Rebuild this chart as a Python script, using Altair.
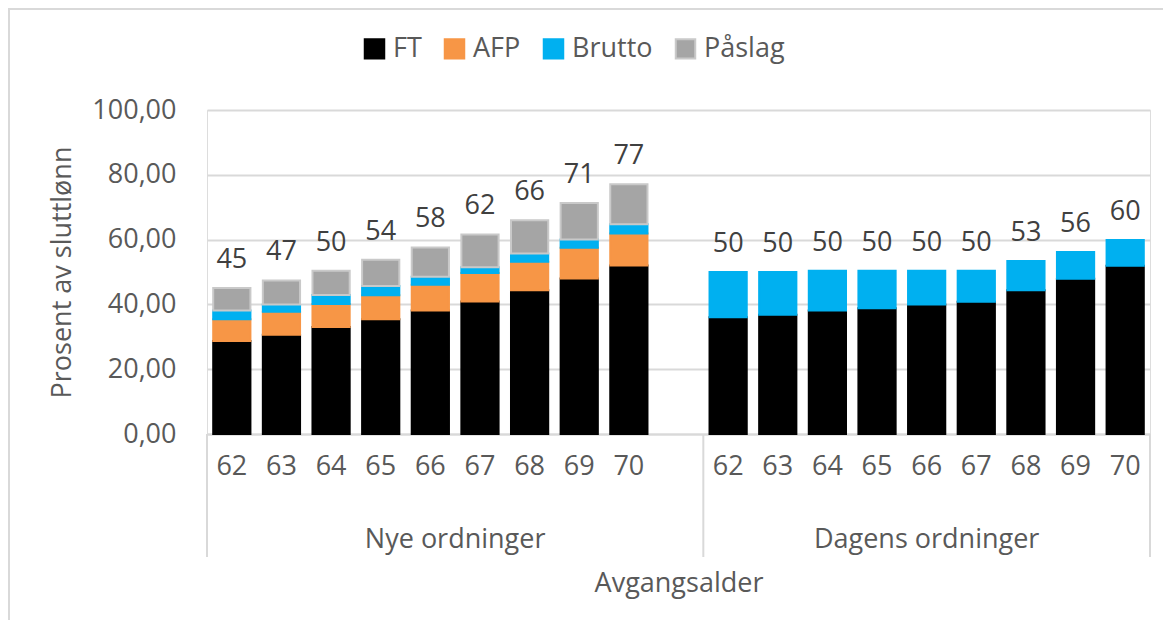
import altair as alt
import pandas as pd

series = ["FT", "AFP", "Brutto", "Påslag"]
fill_colors = ["#000000", "#f79646", "#00b0f0", "#a5a5a5"]
stroke_colors = ["#000000", "#f79646", "#00b0f0", "#c9c9c9"]
ages = ["62", "63", "64", "65", "66", "67", "68", "69", "70"]
groups = ["Nye ordninger", "Dagens ordninger"]

nye_ft = [28.7, 30.6, 33.0, 35.4, 38.1, 40.9, 44.4, 48.0, 52.0]
nye_afp = [6.7, 7.1, 7.1, 7.4, 8.0, 8.8, 8.8, 9.5, 9.9]
nye_brutto = [2.7, 2.3, 2.8, 2.9, 2.4, 1.8, 2.5, 2.5, 2.8]
nye_paaslag = [7.0, 7.4, 7.5, 8.1, 9.1, 10.1, 10.3, 11.3, 12.4]

dagens_ft = [36.0, 36.8, 38.1, 38.8, 40.0, 40.8, 44.4, 47.9, 51.9]
dagens_brutto = [14.0, 13.2, 12.3, 11.6, 10.4, 9.6, 9.0, 8.3, 8.0]

# category keys: 9 ages + an empty slot in the first group, then 9 ages
keys = [f"Nye|{a}" for a in ages] + ["Nye|gap"] + [f"Dagens|{a}" for a in ages]

rows = []
for i, a in enumerate(ages):
    for s, v in zip(series, [nye_ft[i], nye_afp[i], nye_brutto[i], nye_paaslag[i]]):
        rows.append({"key": f"Nye|{a}", "serie": s, "value": v, "ord": series.index(s)})
for i, a in enumerate(ages):
    for s, v in zip(["FT", "Brutto"], [dagens_ft[i], dagens_brutto[i]]):
        rows.append({"key": f"Dagens|{a}", "serie": s, "value": v, "ord": series.index(s)})
df = pd.DataFrame(rows)

FONT = "Open Sans"
TXT = "#595959"
FS = 27
W, H = 943, 324
PAD_OUT = 0.125
HALF_GAP = W / len(keys) * PAD_OUT  # distance from bar edge to slot edge

xscale = alt.Scale(domain=keys, paddingInner=0.25, paddingOuter=PAD_OUT)
leg = alt.Legend(
    title=None, orient="none", legendX=154, legendY=-75, direction="horizontal",
    symbolType="square", symbolSize=380, symbolStrokeWidth=2,
    labelFont=FONT, labelFontSize=FS, labelColor=TXT, labelOffset=5,
    columnPadding=18, labelLimit=300,
)

bars = alt.Chart(df).mark_bar(strokeWidth=2).encode(
    x=alt.X(
        "key:N", scale=xscale, sort=keys,
        axis=alt.Axis(
            title="Avgangsalder", labelAngle=0, ticks=False,
            labelExpr="split(datum.label, '|')[1] == 'gap' ? '' : split(datum.label, '|')[1]",
            labelFont=FONT, labelFontSize=FS, labelColor=TXT, labelPadding=19,
            labelBaseline="top",
            domainColor="#d9d9d9", domainWidth=2,
            titleFont=FONT, titleFontSize=FS, titleColor=TXT, titleFontWeight="normal",
            titlePadding=91,
        ),
    ),
    y=alt.Y(
        "value:Q", stack="zero", scale=alt.Scale(domain=[0, 100]),
        axis=alt.Axis(
            title="Prosent av sluttlønn", values=[0, 20, 40, 60, 80, 100],
            labelExpr="replace(format(datum.value, '.2f'), '.', ',')",
            ticks=False, domain=False, gridColor="#d9d9d9", gridWidth=2,
            labelFont=FONT, labelFontSize=FS, labelColor=TXT, labelPadding=31,
            titleFont=FONT, titleFontSize=FS, titleColor=TXT, titleFontWeight="normal",
            titlePadding=15,
        ),
    ),
    color=alt.Color("serie:N", scale=alt.Scale(domain=series, range=fill_colors), legend=leg),
    stroke=alt.Stroke("serie:N", scale=alt.Scale(domain=series, range=stroke_colors), legend=leg),
    order=alt.Order("ord:Q"),
)

totals = alt.Chart(df).transform_aggregate(
    total="sum(value)", groupby=["key"]
).mark_text(baseline="alphabetic", dy=-20, font=FONT, fontSize=FS, color="#404040").encode(
    x=alt.X("key:N", scale=xscale, sort=keys),
    y=alt.Y("total:Q"),
    text=alt.Text("total:Q", format=".0f"),
)

sep_start = alt.Chart(pd.DataFrame({"key": ["Nye|62", "Dagens|62"]})).mark_rule(
    color="#d9d9d9", strokeWidth=2, xOffset=-HALF_GAP
).encode(
    x=alt.X("key:N", scale=xscale, sort=keys, bandPosition=0),
    y=alt.value(H), y2=alt.value(H + 123),
)
sep_end = alt.Chart(pd.DataFrame({"key": ["Dagens|70"]})).mark_rule(
    color="#d9d9d9", strokeWidth=2, xOffset=HALF_GAP
).encode(
    x=alt.X("key:N", scale=xscale, sort=keys, bandPosition=1),
    y=alt.value(H), y2=alt.value(H + 123),
)

grp1 = alt.Chart(pd.DataFrame({"key": ["Nye|66"], "label": [groups[0]]})).mark_text(
    baseline="middle", font=FONT, fontSize=FS, color=TXT, xOffset=HALF_GAP
).encode(
    x=alt.X("key:N", scale=xscale, sort=keys, bandPosition=1),
    y=alt.value(430), text="label:N",
)
grp2 = alt.Chart(pd.DataFrame({"key": ["Dagens|66"], "label": [groups[1]]})).mark_text(
    baseline="middle", font=FONT, fontSize=FS, color=TXT
).encode(
    x=alt.X("key:N", scale=xscale, sort=keys),
    y=alt.value(430), text="label:N",
)

# chart frame: only its top and left edges fall inside the canvas, as in the reference
border = alt.Chart(alt.Data(values=[{"a": 1}])).mark_rect(
    filled=False, stroke="#d9d9d9", strokeWidth=2
).encode(
    x=alt.value(-198), x2=alt.value(1100), y=alt.value(-101), y2=alt.value(700),
)

chart = alt.layer(border, bars, totals, sep_start, sep_end, grp1, grp2).properties(
    width=W, height=H,
    padding={"left": 199, "top": 102, "right": 13, "bottom": 186},
    autosize="none",
).configure_view(stroke=None).configure(background="white")

chart.save("out.html", embed_options={"renderer": "svg", "actions": False})
